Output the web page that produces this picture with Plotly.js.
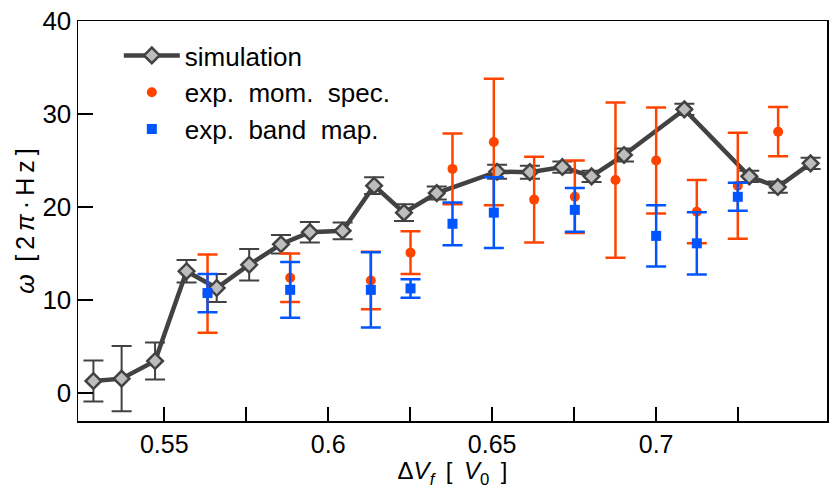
<!DOCTYPE html>
<html>
<head>
<meta charset="utf-8">
<script src="https://cdn.plot.ly/plotly-3.0.1.min.js"></script>
<style>html,body{margin:0;padding:0;background:#fff;}#chart{width:830px;height:489px;}</style>
</head>
<body>
<div id="chart"></div>
<script>
// Simulation
const simX = [0.5284, 0.5370, 0.5472, 0.5568, 0.5660, 0.5759, 0.5856, 0.5944, 0.6044, 0.6140, 0.6231, 0.6331, 0.6515, 0.6615, 0.6714, 0.6803, 0.6902, 0.7086, 0.7284, 0.7371, 0.7471];
const simY = [1.3, 1.55, 3.45, 13.1, 11.3, 13.8, 16.0, 17.3, 17.45, 22.3, 19.4, 21.5, 23.8, 23.75, 24.3, 23.3, 25.6, 30.5, 23.3, 22.15, 24.7];
const simErr = [2.2, 3.5, 2.0, 1.2, 1.5, 1.7, 1.0, 1.1, 0.9, 0.9, 0.9, 0.7, 0.75, 0.7, 0.6, 0.6, 0.7, 0.6, 0.6, 0.6, 0.6];

// Experimental: momentum spectroscopy
const momX = [0.5632, 0.5884, 0.6130, 0.6251, 0.6379, 0.6505, 0.6628, 0.6752, 0.6876, 0.7000, 0.7124, 0.7249, 0.7372];
const momY = [10.7, 12.4, 12.1, 15.1, 24.1, 27.0, 20.8, 21.1, 22.9, 25.0, 19.5, 22.3, 28.1];
const momErr = [4.2, 2.6, 3.1, 2.3, 3.8, 6.8, 4.6, 3.9, 8.35, 5.7, 3.4, 5.7, 2.65];

// Experimental: band mapping
const bandX = [0.5632, 0.5884, 0.6130, 0.6251, 0.6379, 0.6505, 0.6752, 0.7000, 0.7124, 0.7249];
const bandY = [10.75, 11.1, 11.1, 11.25, 18.2, 19.4, 19.7, 16.9, 16.1, 21.1];
const bandErr = [2.05, 3.0, 4.05, 1.0, 2.3, 3.8, 2.35, 3.3, 3.35, 1.5];

// Ticks
const xTickVals = [0.55, 0.6, 0.65, 0.7];
const xTickText = ['0.55', '0.6', '0.65', '0.7'];
const xMinorVals = [0.575, 0.625, 0.675, 0.725];
const yTickVals = [0, 10, 20, 30, 40];

const names = ['simulation', 'exp.\u00a0 mom.\u00a0 spec.', 'exp.\u00a0 band\u00a0 map.'];

const gray = '#424242';
const red = '#ff4400';
const blue = '#0055ff';

const traces = [
  {
    x: simX, y: simY, name: names[0], type: 'scatter', mode: 'lines+markers',
    line: {color: gray, width: 4.5},
    marker: {symbol: 'diamond', size: 12, color: '#bdbdbd', line: {color: gray, width: 2.5}},
    error_y: {type: 'data', array: simErr, visible: true, color: gray, thickness: 2, width: 10}
  },
  {
    x: momX, y: momY, name: names[1], type: 'scatter', mode: 'markers',
    marker: {symbol: 'circle', size: 10, color: red},
    error_y: {type: 'data', array: momErr, visible: true, color: red, thickness: 2.5, width: 10}
  },
  {
    x: bandX, y: bandY, name: names[2], type: 'scatter', mode: 'markers',
    marker: {symbol: 'square', size: 10, color: blue},
    error_y: {type: 'data', array: bandErr, visible: true, color: blue, thickness: 2.5, width: 10}
  }
];

const font = 'Liberation Sans, Arial, Helvetica, sans-serif';
const ts = '\u2009';

const layout = {
  width: 830, height: 489,
  margin: {l: 78, r: 3, t: 21, b: 68},
  paper_bgcolor: '#fff', plot_bgcolor: '#fff',
  font: {family: font, color: '#000', size: 25},
  showlegend: true,
  legend: {
    x: 0.0545, y: 0.9725, xanchor: 'left', yanchor: 'top',
    bgcolor: 'rgba(0,0,0,0)', font: {family: font, size: 26, color: '#000'},
    itemwidth: 56, tracegroupgap: 0
  },
  xaxis: {
    range: [0.5237, 0.7521], tickmode: 'array', tickvals: xTickVals, ticktext: xTickText,
    ticks: 'inside', ticklen: 14, tickwidth: 2, tickcolor: '#000',
    minor: {tickmode: 'array', tickvals: xMinorVals, ticks: 'inside', ticklen: 14, tickwidth: 2, tickcolor: '#000', showgrid: false},
    showline: true, linecolor: '#000', linewidth: 1.5, mirror: true,
    showgrid: false, zeroline: false, automargin: false,
    tickfont: {family: font, size: 25, color: '#000'},
    title: {text: '\u0394<i>V</i><sub><i>f</i></sub>' + ts + ' [' + ts + ' <i>V</i><sub>0</sub>' + ts + ' ]', font: {family: font, size: 24, color: '#000'}, standoff: 0}
  },
  yaxis: {
    range: [-3, 40], tickvals: yTickVals,
    ticks: 'inside', ticklen: 15, tickwidth: 2, tickcolor: '#000',
    showline: true, linecolor: '#000', linewidth: 1.5, mirror: true,
    showgrid: false, zeroline: false, automargin: false,
    tickfont: {family: font, size: 26, color: '#000'},
    title: {text: '<i>\u03c9</i>\u2002[' + ts + '2' + ts + '<i>\u03c0</i>' + ts + '\u00b7' + ts + 'H' + ts + 'z' + ts + ']', font: {family: font, size: 25, color: '#000'}, standoff: 0}
  }
};

Plotly.newPlot('chart', traces, layout, {staticPlot: true, displayModeBar: false});
</script>
</body>
</html>
